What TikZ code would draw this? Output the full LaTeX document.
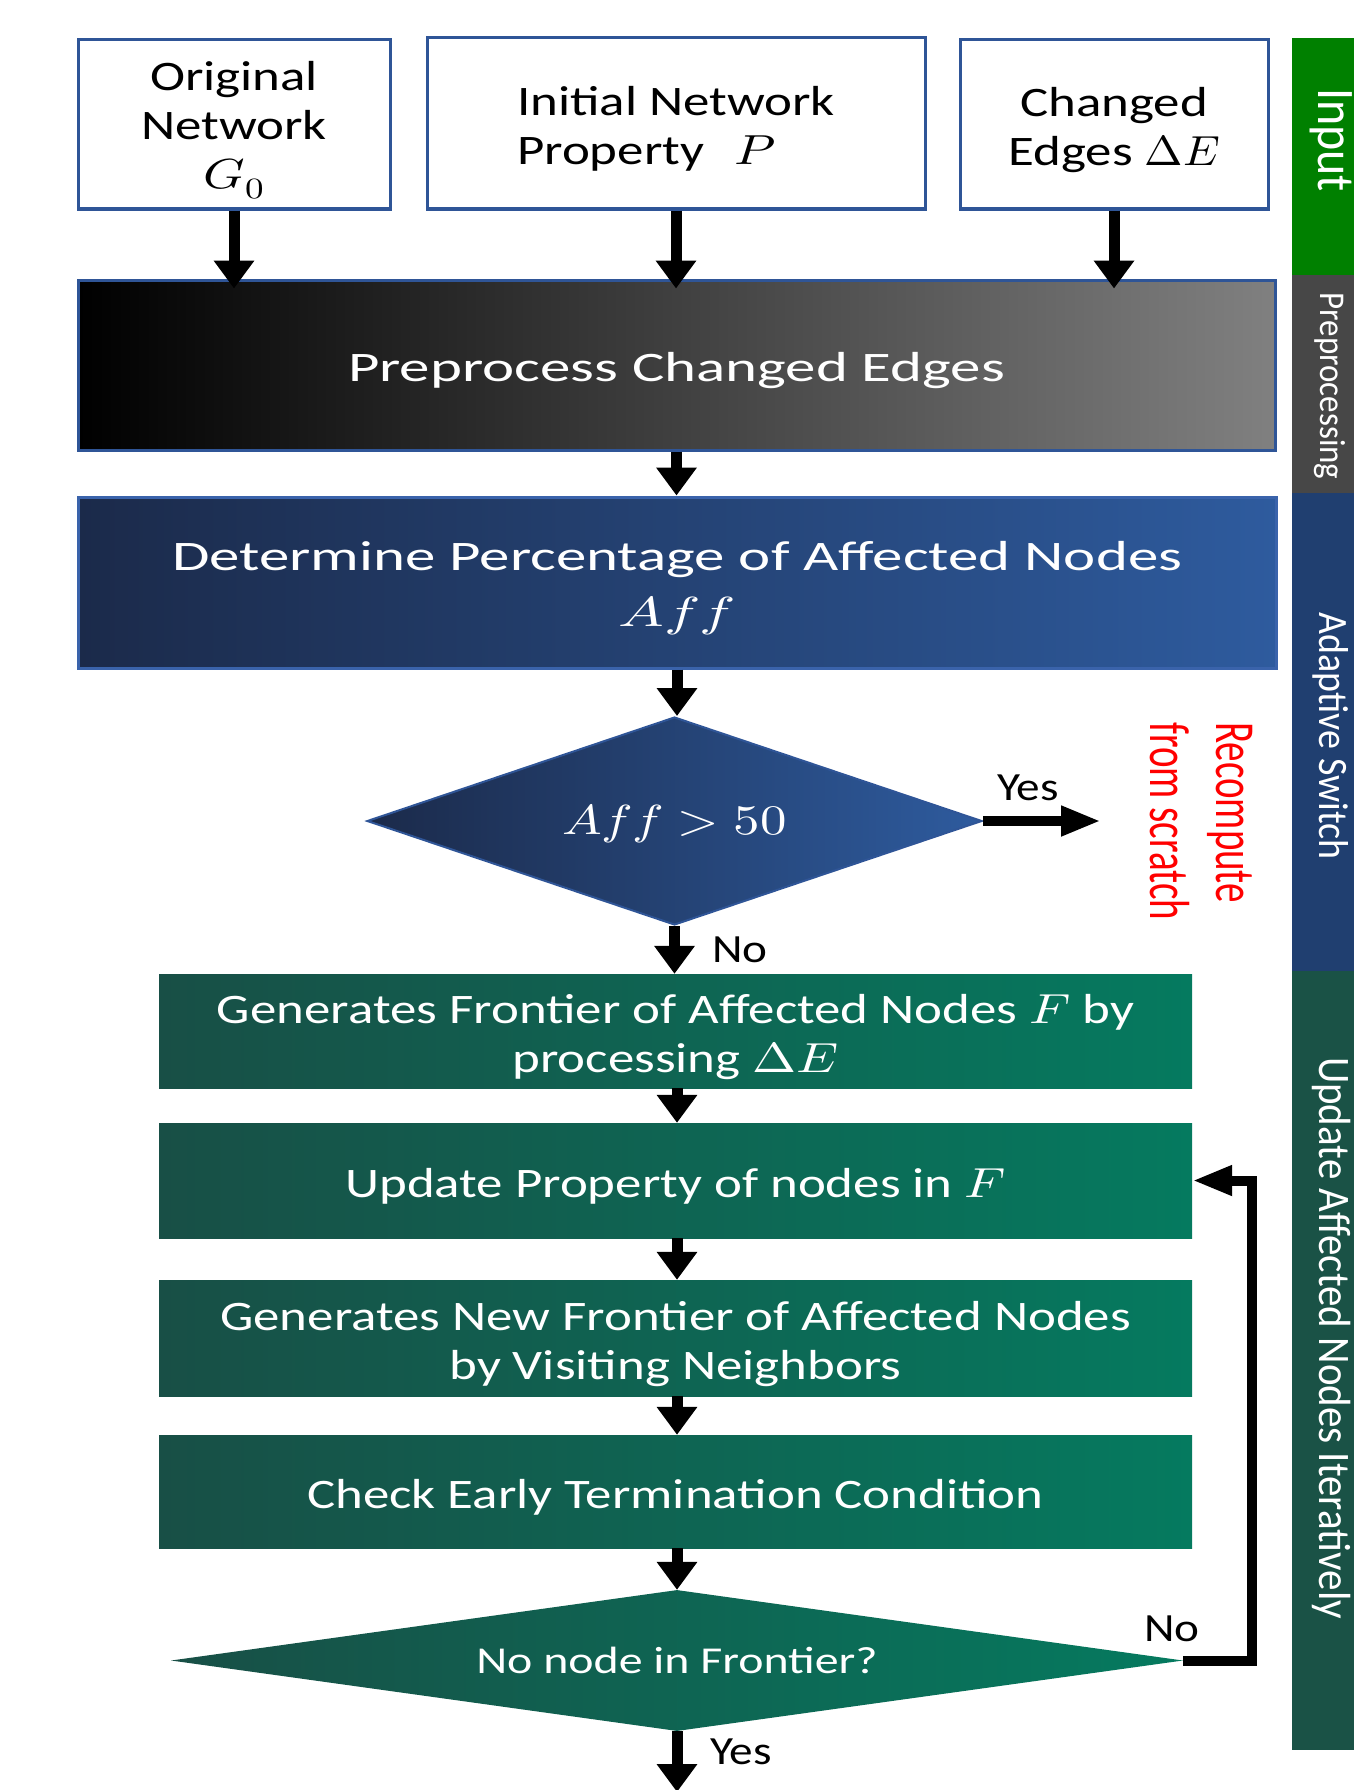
\documentclass[tikz,border=0pt]{standalone}
\usepackage{graphicx}
\usepackage{fontspec}
\usepackage{unicode-math}
\setmainfont{Carlito}[FakeStretch=1.26]
\newfontfamily\widefont{Carlito}[FakeStretch=1.45]
\newfontfamily\labelfont{Carlito}[FakeStretch=1.18]
\newfontfamily\sidefont{Carlito}
\setmathfont{Latin Modern Math}
\usetikzlibrary{shapes.geometric,arrows.meta,calc}

\definecolor{boxline}{HTML}{2F5597}
\definecolor{preR}{HTML}{808080}
\definecolor{blueL}{HTML}{1B2A4A}
\definecolor{blueR}{HTML}{2E5B9E}
\definecolor{blueline}{HTML}{3A63AB}
\definecolor{grnL}{HTML}{184F46}
\definecolor{grnR}{HTML}{057A5F}
\definecolor{sideIn}{HTML}{008000}
\definecolor{sidePre}{HTML}{474747}
\definecolor{sideAd}{HTML}{203F70}
\definecolor{sideUp}{HTML}{1A5246}

% math set with the same horizontal stretch as the surrounding text
\newcommand\mA[1]{\scalebox{1.26}[1]{$#1$}}
\newcommand\mB[1]{\scalebox{1.45}[1]{$#1$}}
\newcommand\bodysize{\fontsize{42}{49}\selectfont}
% taller first line, so the text block sits a little lower in its box
\newcommand\toppad{\rule{0pt}{0.97em}}

\begin{document}
\begin{tikzpicture}[x=1pt,y=-1pt,
  inbox/.style={draw=boxline,line width=3pt,fill=white,inner sep=0pt,
    align=center,text=black,font=\bodysize},
  graybox/.style={draw=boxline,line width=3pt,left color=black,right color=preR,
    inner sep=0pt,align=center,text=white,font=\bodysize\widefont,
    minimum width=1197pt,minimum height=170pt},
  bluebox/.style={draw=blueline,line width=3pt,left color=blueL,right color=blueR,
    inner sep=0pt,align=center,text=white,font=\bodysize\widefont,
    minimum width=1198pt,minimum height=171pt},
  bluedia/.style={shape=diamond,draw=boxline,line width=2pt,left color=blueL,
    right color=blueR,inner sep=0pt,text=white,font=\bodysize,
    minimum width=615pt,minimum height=208pt,shape aspect=2.96},
  grnbox/.style={left color=grnL,right color=grnR,inner sep=0pt,align=center,
    text=white,font=\bodysize,minimum width=1033pt},
  grndia/.style={shape=diamond,left color=grnL,right color=grnR,inner sep=0pt,
    text=white,font=\fontsize{38}{45}\selectfont,
    minimum width=1012pt,minimum height=141pt,shape aspect=7.2},
  flow/.style={line width=11pt,-{Triangle[length=28pt,width=39pt]}},
  hflow/.style={line width=10pt,line join=miter,-{Triangle[length=40pt,width=28pt]}},
  lbl/.style={inner sep=0pt,text=black,font=\fontsize{40}{48}\labelfont},
  sidelbl/.style={inner sep=0pt,text=white,rotate=-90,anchor=base},
  redlbl/.style={inner sep=0pt,text=red,rotate=-90,anchor=base west,
    font=\fontsize{39}{48}\sidefont},
]
\useasboundingbox (0,0) rectangle (1354,1790);

% stage bar on the right edge
\begin{scope}
  \clip (1292,0) rectangle (1354,1790);
  \fill[sideIn]  (1292,38)  rectangle (1354,275);
  \fill[sidePre] (1292,275) rectangle (1354,493);
  \fill[sideAd]  (1292,493) rectangle (1354,971);
  \fill[sideUp]  (1292,971) rectangle (1354,1750);
  \node[sidelbl,font=\fontsize{48}{58}\sidefont] (sIn)  at (1318,140)  {\scalebox{1}[1.1]{Input}};
  \node[sidelbl,font=\fontsize{33}{40}\sidefont] (sPre) at (1320,386)  {\scalebox{1}[1.1]{Preprocessing}};
  \node[sidelbl,font=\fontsize{38}{46}\sidefont] (sAd)  at (1319,736)  {\scalebox{1}[1.1]{Adaptive Switch}};
  \node[sidelbl,font=\fontsize{41}{50}\sidefont] (sUp)  at (1319,1338) {\scalebox{1}[1.1]{Update Affected Nodes Iteratively}};
\end{scope}

% inputs
\node[inbox,minimum width=312pt,minimum height=169pt] (b1) at (234,124.5)
  {\toppad Original\\Network\\\mA{G_0}};
\node[inbox,minimum width=498pt,minimum height=171pt,align=left] (b2) at (676,123.5)
  {\toppad Initial Network\\Property\hspace{30pt}\mA{P}};
\node[inbox,minimum width=308pt,minimum height=169pt] (b3) at (1114,124.5)
  {\toppad Changed\\Edges \scalebox{1.1}[1]{$\Delta E$}};

% preprocessing and adaptive switch
\node[graybox] (pre) at (676.5,365) {\toppad Preprocess Changed Edges};
\node[bluebox] (det) at (677,582.5)
  {\toppad Determine Percentage of Affected Nodes\\[7pt]\mB{Aff}};
\node[bluedia] (d1) at (674.5,821) {\rule{0pt}{0.85em}\mA{Aff > 50}};

% iterative update
\node[grnbox,minimum height=114pt] (g1) at (675.5,1031)
  {\toppad Generates Frontier of Affected Nodes \mA{F} by\\processing \mA{\Delta E}};
\node[grnbox,minimum height=115pt] (g2) at (675.5,1180.5)
  {\toppad Update Property of nodes in \mA{F}};
\node[grnbox,minimum height=116pt] (g3) at (675.5,1338)
  {\toppad Generates New Frontier of Affected Nodes\\by Visiting Neighbors};
\node[grnbox,minimum height=113pt] (g4) at (675.5,1491.5)
  {\toppad Check Early Termination Condition};
\node[grndia] (d2) at (677,1660.5) {No node in Frontier?};

% recompute branch
\coordinate (rc) at (1101,821);
\node[redlbl] (r1) at (1216,722) {\scalebox{1}[1.45]{Recompute}};
\node[redlbl] (r2) at (1150,722) {\scalebox{1}[1.45]{from scratch}};
\coordinate (out) at (677,1792);

% connectors
\draw[flow] (b1.south) -- ($(b1.south |- pre.north)+(0,10)$);
\draw[flow] (b2.south) -- ($(b2.south |- pre.north)+(0,10)$);
\draw[flow] (b3.south) -- ($(b3.south |- pre.north)+(0,10)$);
\draw[flow] (pre.south) -- (pre.south |- det.north);
\draw[flow] (det.south) -- (det.south |- d1.north);
\draw[hflow] (d1.east) -- (rc);
\draw[flow] (d1.south) -- (d1.south |- g1.north);
\draw[flow] (g1.south -| d2.north) -- (d2.north |- g2.north);
\draw[flow] (g2.south -| d2.north) -- (d2.north |- g3.north);
\draw[flow] (g3.south -| d2.north) -- (d2.north |- g4.north);
\draw[flow] (g4.south -| d2.north) -- (d2.north);
\draw[flow] (d2.south) -- (out);
\draw[hflow] (d2.east) -- ++(69,0) |- (g2.east);

% branch labels
\node[lbl,anchor=base] (yes1) at (1028,800) {Yes};
\node[lbl,anchor=base west] (no1) at (712,962) {No};
\node[lbl,anchor=base west] (yes2) at (710,1764) {Yes};
\node[lbl,anchor=base west] (no2) at (1144,1641) {No};
\end{tikzpicture}
\end{document}
